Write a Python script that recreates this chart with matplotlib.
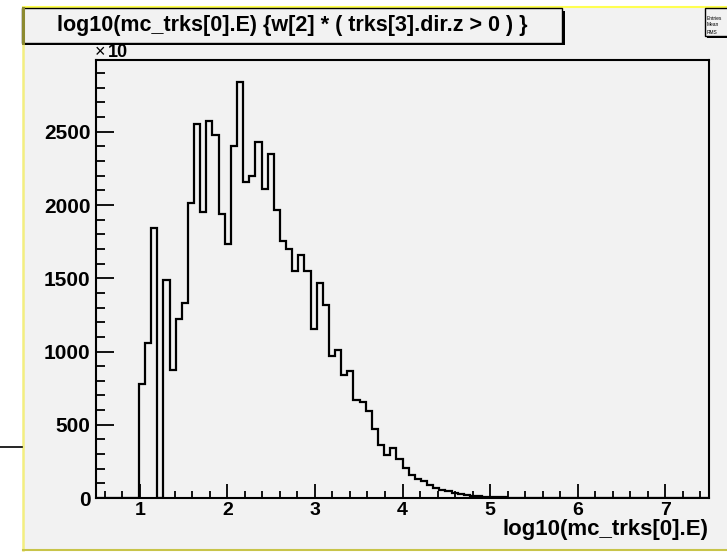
import numpy as np
import matplotlib.pyplot as plt
from matplotlib.patches import Rectangle
from matplotlib.lines import Line2D
from matplotlib.ticker import MultipleLocator

W, H = 727, 552

# histogram: 100 bins between 0.5 and 7.5
x_low, x_high, n_bins = 0.5, 7.5, 100
counts = [
    0, 0, 0, 0, 0, 0, 0,
    779, 1061, 1843, 0, 1488, 872, 1220, 1329, 2013, 2551,
    1950, 2574, 2477, 1938, 1731, 2404, 2840, 2158, 2197, 2429,
    2111, 2347, 1965, 1756, 1697, 1547, 1661, 1552, 1156, 1465,
    1316, 972, 1011, 838, 866, 668, 654, 593, 470, 361,
    295, 338, 266, 204, 154, 132, 113, 91, 70, 57,
    45, 34, 27, 20, 14, 12, 8, 7, 5, 4,
    3, 3, 2, 2, 1,
]
counts = counts + [0] * (n_bins - len(counts))

title = "log10(mc_trks[0].E) {w[2] * ( trks[3].dir.z > 0 ) }"
x_title = "log10(mc_trks[0].E)"
stat_names = ["Entries", "Mean", "RMS"]

plt.rcParams['font.family'] = ['Liberation Sans', 'DejaVu Sans']
gray = "#f2f2f2"


def fx(x):
    return x / W


def fy(y):
    return 1 - y / H


fig = plt.figure(figsize=(W / 100, H / 100), dpi=100, facecolor="white")

# canvas pad with yellow border
fig.patches.append(Rectangle((fx(23), fy(550)), fx(W) - fx(23), fy(7) - fy(550),
                             transform=fig.transFigure, facecolor=gray,
                             edgecolor="none", zorder=0))
fig.lines.append(Line2D([fx(23), fx(W)], [fy(7), fy(7)], transform=fig.transFigure,
                        color="#ffff50", lw=1.5))
fig.lines.append(Line2D([fx(23), fx(23)], [fy(7), fy(550)], transform=fig.transFigure,
                        color="#f3ee80", lw=1.8))
fig.lines.append(Line2D([fx(23), fx(W)], [fy(550), fy(550)], transform=fig.transFigure,
                        color="#c8c44a", lw=1.5))
fig.lines.append(Line2D([fx(0), fx(22)], [fy(447), fy(447)], transform=fig.transFigure,
                        color="black", lw=1.2))

ax = fig.add_axes([fx(96), fy(498), fx(709) - fx(96), fy(60) - fy(498)])
ax.set_zorder(2)
ax.set_facecolor(gray)

edges = np.linspace(x_low, x_high, n_bins + 1)
ax.stairs(counts, edges, color="black", lw=1.6, baseline=0)

ax.set_xlim(x_low, x_high)
ax.set_ylim(0, 2990)
ax.xaxis.set_major_locator(MultipleLocator(1))
ax.xaxis.set_minor_locator(MultipleLocator(0.2))
ax.yaxis.set_major_locator(MultipleLocator(500))
ax.yaxis.set_minor_locator(MultipleLocator(100))
ax.tick_params(axis="x", which="major", direction="in", length=10, width=1.3, pad=3)
ax.tick_params(axis="x", which="minor", direction="in", length=5, width=1.3)
ax.tick_params(axis="y", which="major", direction="in", length=13, width=1.3, pad=4)
ax.tick_params(axis="y", which="minor", direction="in", length=6.5, width=1.3)
for lab in ax.get_xticklabels():
    lab.set_fontweight("bold")
    lab.set_fontsize(14)
for lab in ax.get_yticklabels():
    lab.set_fontweight("bold")
    lab.set_fontsize(15)
for sp in ax.spines.values():
    sp.set_linewidth(1.5)

ax.set_xlabel(x_title, fontsize=16, fontweight="bold", ha="right", x=1.0, labelpad=0)

fig.text(fx(95), fy(57), "×", fontsize=13, va="baseline", zorder=1)
fig.text(fx(108), fy(57), "10", fontsize=13, fontweight="bold", va="baseline", zorder=1)

# title box with shadow
fig.patches.append(Rectangle((fx(25), fy(45)), fx(565) - fx(25), fy(11) - fy(45),
                             transform=fig.transFigure, facecolor="black",
                             edgecolor="none", zorder=3))
fig.patches.append(Rectangle((fx(22), fy(43)), fx(562) - fx(22), fy(8) - fy(43),
                             transform=fig.transFigure, facecolor=gray,
                             edgecolor="black", lw=1.0, zorder=4))
fig.lines.append(Line2D([fx(23), fx(23)], [fy(8), fy(43)], transform=fig.transFigure,
                        color="#8c8a30", lw=2.2, zorder=5))
fig.text(fx(292), fy(26), title, fontsize=15.5, fontweight="bold",
         ha="center", va="center", zorder=5)

# stats box, mostly cut off at the right edge
fig.patches.append(Rectangle((fx(707), fy(38)), fx(W) - fx(707), fy(10) - fy(38),
                             transform=fig.transFigure, facecolor="black",
                             edgecolor="none", zorder=3))
fig.patches.append(Rectangle((fx(705), fy(36)), fx(W + 5) - fx(705), fy(8) - fy(36),
                             transform=fig.transFigure, facecolor=gray,
                             edgecolor="black", lw=1.0, zorder=4))
for i, name in enumerate(stat_names):
    fig.text(fx(707), fy(18 + 7 * i), name, fontsize=3.5, va="center", zorder=5)

fig.savefig("out.png", dpi=100, facecolor=fig.get_facecolor())
